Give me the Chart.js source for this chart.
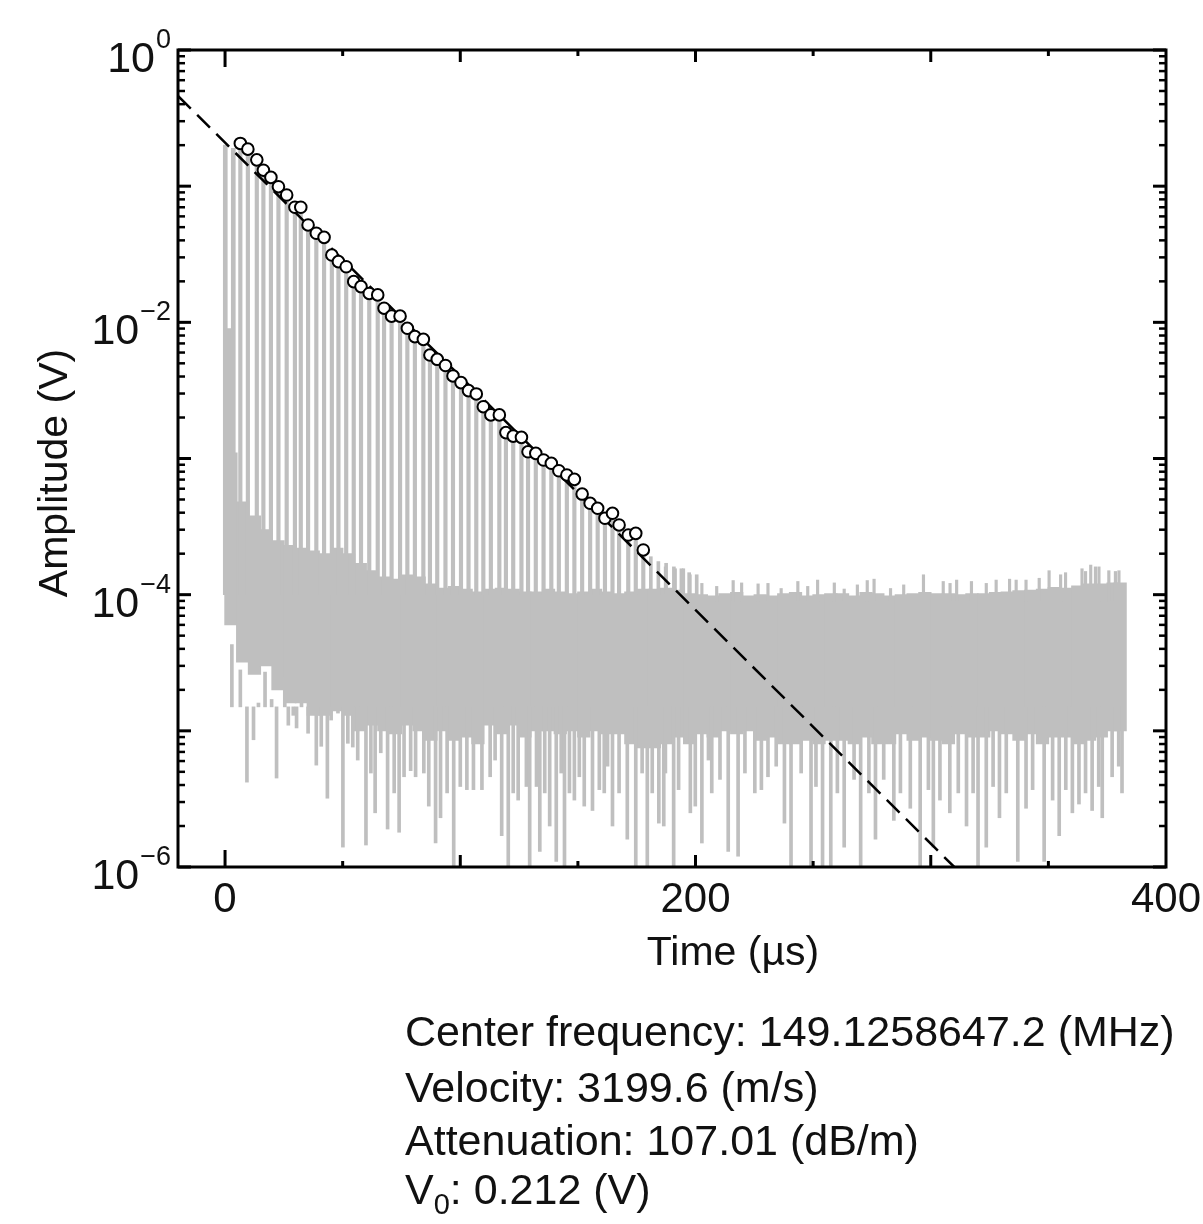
<!DOCTYPE html>
<html>
<head>
<meta charset="utf-8">
<script src="https://cdn.jsdelivr.net/npm/chart.js@4.4.0/dist/chart.umd.min.js"></script>
<style>
html,body{margin:0;padding:0;background:#fff;}
#wrap{position:relative;width:1203px;height:1224px;overflow:hidden;}
#chart{position:absolute;left:0;top:0;}
.info{position:absolute;left:405px;font-family:"Liberation Sans",Arial,sans-serif;font-size:43px;line-height:43px;color:#111;white-space:nowrap;}
.info sub{font-size:29px;line-height:0;vertical-align:-10px;}
</style>
</head>
<body>
<div id="wrap">
<canvas id="chart" width="1203" height="1224"></canvas>
<div class="info" style="top:1010px">Center frequency: 149.1258647.2 (MHz)</div>
<div class="info" style="top:1066px">Velocity: 3199.6 (m/s)</div>
<div class="info" style="top:1119px">Attenuation: 107.01 (dB/m)</div>
<div class="info" style="top:1168px">V<sub>0</sub>: 0.212 (V)</div>
</div>
<script>
// echo peaks picked for the fit (circles), time in us, amplitude in V
const echoTimes = [6.5, 9.7, 13.5, 16.3, 19.5, 22.7, 26.2, 29.7, 32.2, 35.3, 38.8, 42.1, 45.4, 48.2, 51.5, 54.7, 57.8, 61.3, 64.9, 67.6,
  70.8, 74.4, 77.5, 80.7, 84.3, 87.1, 90.2, 93.7, 96.9, 100.3, 103.5, 106.8, 109.8, 113.0, 116.6, 119.4, 122.5, 126.0, 128.8, 132.1,
  135.4, 138.7, 141.9, 145.3, 148.5, 151.8, 155.2, 158.4, 161.5, 164.7, 167.5, 171.4, 174.6, 177.8];
const echoPeaks = [0.206, 0.187, 0.156, 0.131, 0.116, 0.0991, 0.0861, 0.0700, 0.0700, 0.0519, 0.0451, 0.0421, 0.0312, 0.0279, 0.0256, 0.0199, 0.0183, 0.0163, 0.0159, 0.0127,
  0.0111, 0.0111, 0.00904, 0.00785, 0.00750, 0.00575, 0.00535, 0.00482, 0.00404, 0.00361, 0.00315, 0.00298, 0.00240, 0.00209, 0.00209, 0.00155, 0.00146, 0.00143, 0.00112, 0.00109,
  0.000975, 0.000922, 0.000813, 0.000757, 0.000703, 0.000548, 0.000469, 0.000431, 0.000364, 0.000396, 0.000325, 0.000274, 0.000282, 0.000213];

// raw trace: excitation pulses and late echoes without a circle
const pulseTimes = [0.1, 1.8, 3.5];
const pulsePeaks = [0.2, 0.009, 0.19];
const tailTimes = [181.0, 184.2, 187.5, 190.8, 194.0, 197.3, 200.5];
const tailPeaks = [0.00019, 0.000175, 0.00017, 0.00016, 0.000155, 0.000145, 0.00014];

// noise band, 5 us bins: upper and lower edge of the dense grey
const bandTimes = [2.5, 7.5, 12.5, 17.5, 22.5, 27.5, 32.5, 37.5, 42.5, 47.5, 52.5, 57.5, 62.5, 67.5, 72.5, 77.5, 82.5, 87.5, 92.5, 97.5,
  102.5, 107.5, 112.5, 117.5, 122.5, 127.5, 132.5, 137.5, 142.5, 147.5, 152.5, 157.5, 162.5, 167.5, 172.5, 177.5, 182.5, 187.5, 192.5, 197.5,
  202.5, 207.5, 212.5, 217.5, 222.5, 227.5, 232.5, 237.5, 242.5, 247.5, 252.5, 257.5, 262.5, 267.5, 272.5, 277.5, 282.5, 287.5, 292.5, 297.5,
  302.5, 307.5, 312.5, 317.5, 322.5, 327.5, 332.5, 337.5, 342.5, 347.5, 352.5, 357.5, 362.5, 367.5, 372.5, 377.5, 380.5];
const bandHigh = [1.1e-3, 4.8e-4, 3.8e-4, 3.0e-4, 2.5e-4, 2.3e-4, 2.2e-4, 2.1e-4, 2.0e-4, 2.2e-4, 2.0e-4, 1.7e-4, 1.5e-4, 1.35e-4, 1.3e-4, 1.4e-4, 1.35e-4, 1.2e-4, 1.12e-4, 1.15e-4,
  1.1e-4, 1.05e-4, 1.1e-4, 1.12e-4, 1.1e-4, 1.05e-4, 1.05e-4, 1.1e-4, 1.05e-4, 1.02e-4, 1.05e-4, 1.1e-4, 1.05e-4, 1.02e-4, 1.05e-4, 1.1e-4, 1.1e-4, 1.12e-4, 1.08e-4, 1.02e-4,
  1.0e-4, 9.8e-5, 1.02e-4, 1.04e-4, 9.8e-5, 1.0e-4, 9.8e-5, 1.02e-4, 1.04e-4, 9.8e-5, 1.0e-4, 1.02e-4, 1.02e-4, 9.8e-5, 1.04e-4, 1.02e-4, 9.8e-5, 1.0e-4, 1.02e-4, 1.04e-4,
  1.02e-4, 1.02e-4, 1.0e-4, 1.02e-4, 1.02e-4, 1.04e-4, 1.05e-4, 1.07e-4, 1.08e-4, 1.1e-4, 1.13e-4, 1.12e-4, 1.16e-4, 1.2e-4, 1.2e-4, 1.22e-4, 1.22e-4];
const bandLow = [6e-5, 3.2e-5, 2.6e-5, 3e-5, 2e-5, 1.6e-5, 1.6e-5, 1.3e-5, 1.3e-5, 1.4e-5, 1.3e-5, 1e-5, 1.1e-5, 1e-5, 9.5e-6, 1.1e-5, 1e-5, 8.5e-6, 1e-5, 8.5e-6,
  9e-6, 8e-6, 1.1e-5, 9.5e-6, 1.1e-5, 9e-6, 1e-5, 1e-5, 9.5e-6, 1e-5, 9e-6, 1e-5, 9.5e-6, 9.5e-6, 8e-6, 7.5e-6, 7.5e-6, 8e-6, 9e-6, 8e-6,
  9.5e-6, 9e-6, 1e-5, 9.5e-6, 1e-5, 8.5e-6, 9e-6, 8e-6, 8e-6, 8.5e-6, 8e-6, 8.5e-6, 8.5e-6, 8e-6, 9e-6, 8e-6, 8e-6, 9.5e-6, 8.5e-6, 9e-6,
  8.5e-6, 8e-6, 9.5e-6, 9e-6, 9e-6, 1e-5, 9.5e-6, 8.5e-6, 9.5e-6, 8e-6, 9e-6, 9e-6, 8e-6, 8.5e-6, 9e-6, 1e-5, 1e-5];

// downward noise spikes below the band
const dipTimes = [2.9, 6.5, 9.3, 12.1, 14.2, 17.0, 19.8, 21.9, 25.4, 26.9, 29.0, 30.4, 32.5, 35.3, 38.8, 40.9, 43.5, 45.1, 48.0, 50.1,
  52.2, 54.3, 56.4, 59.9, 62.0, 63.8, 66.2, 69.1, 71.9, 74.0, 76.1, 78.9, 81.0, 84.5, 86.6, 89.5, 91.6, 94.4, 97.2, 100.0,
  102.8, 105.6, 109.2, 112.7, 114.8, 117.6, 120.4, 122.5, 124.6, 128.1, 129.5, 132.4, 133.8, 135.9, 138.0, 140.8, 142.9, 144.3, 146.4, 148.5,
  150.6, 152.7, 156.2, 159.1, 161.2, 162.6, 164.7, 167.5, 171.0, 174.6, 177.3, 179.5, 181.6, 184.4, 186.5, 187.2, 190.7, 192.8, 197.8, 199.9,
  202.7, 205.5, 206.9, 210.4, 213.9, 218.1, 221.0, 225.2, 228.0, 230.8, 234.3, 237.8, 240.6, 244.9, 249.1, 251.2, 254.0, 257.5, 260.3, 263.2,
  267.4, 270.2, 273.7, 276.5, 280.0, 284.3, 287.1, 291.3, 295.5, 299.0, 301.1, 303.9, 308.1, 311.7, 315.2, 318.0, 320.1, 323.6, 326.5, 329.2,
  332.1, 337.0, 340.5, 343.3, 348.2, 351.8, 354.6, 357.4, 360.2, 363.0, 365.8, 368.6, 371.4, 372.9, 377.1, 379.9, 381.3];
const dipLows = [4.3e-5, 2.8e-5, 4.2e-6, 8.6e-6, 1.6e-5, 2.7e-5, 1.7e-5, 4.5e-6, 2.5e-5, 1.1e-5, 1.3e-5, 1.05e-5, 1.9e-5, 9.6e-6, 5.6e-6, 7.7e-6, 3.2e-6, 1.2e-5, 1.35e-5, 1.4e-6,
  8.1e-6, 7.6e-6, 6.1e-6, 1.45e-6, 4.9e-6, 2.5e-6, 6.9e-6, 1.9e-6, 3.5e-6, 1.8e-6, 4.6e-6, 5.1e-6, 4.6e-6, 4.9e-6, 2.8e-6, 1.5e-6, 2.3e-6, 3.5e-6, 8e-7, 3.9e-6,
  3.7e-6, 3.7e-6, 3.7e-6, 4.6e-6, 6.1e-6, 1.7e-6, 8e-7, 3.5e-6, 3.1e-6, 3.9e-6, 8e-7, 3.9e-6, 1.3e-6, 3.5e-6, 2e-6, 1.1e-6, 4.9e-6, 8e-7, 3.5e-6, 3.1e-6,
  4.6e-6, 2.8e-6, 2.6e-6, 3.7e-6, 3.5e-6, 5.5e-6, 2e-6, 3.5e-6, 1.6e-6, 8e-7, 4.9e-6, 8e-7, 3.5e-6, 2.1e-6, 2e-6, 4.9e-6, 8e-7, 3.7e-6, 2.5e-6, 2.8e-6,
  1.5e-6, 6.1e-6, 3.5e-6, 4.4e-6, 1.3e-6, 1.2e-6, 4.9e-6, 3.5e-6, 3.7e-6, 4.6e-6, 5.5e-6, 2.1e-6, 8e-7, 4.9e-6, 8e-7, 3.9e-6, 8e-7, 8e-7, 3.5e-6, 1.4e-6,
  4.4e-6, 8e-7, 3.5e-6, 1.6e-6, 4.4e-6, 2.2e-6, 3.5e-6, 2.7e-6, 8e-7, 3.7e-6, 1.4e-6, 3.1e-6, 2.5e-6, 3.5e-6, 2e-6, 3.5e-6, 8e-7, 1.4e-6, 3.9e-6, 2.3e-6,
  3.5e-6, 1.1e-6, 2.7e-6, 3.7e-6, 1.1e-6, 3.1e-6, 1.7e-6, 3.7e-6, 2.5e-6, 2.9e-6, 3.5e-6, 2.6e-6, 3.9e-6, 2.3e-6, 4.6e-6, 5.5e-6, 3.5e-6];

// upward noise spikes above the band
const topTimes = [187.2, 191.4, 194.9, 197.7, 202.7, 209.0, 216.0, 219.6, 226.6, 230.8, 236.4, 243.5, 247.7, 251.9, 259.0, 263.2, 268.8, 273.0, 275.9, 282.9,
  288.5, 296.9, 305.3, 308.2, 311.0, 317.3, 323.6, 327.8, 333.5, 336.3, 340.5, 346.1, 350.3, 355.2, 357.3, 364.3, 365.8, 368.0, 370.0, 371.5,
  375.7, 378.5, 380.0];
const topPeaks = [1.6e-4, 1.55e-4, 1.55e-4, 1.4e-4, 1.21e-4, 1.15e-4, 1.27e-4, 1.22e-4, 1.2e-4, 1.21e-4, 1.11e-4, 1.25e-4, 1.15e-4, 1.28e-4, 1.22e-4, 1.1e-4, 1.18e-4, 1.27e-4, 1.3e-4, 1.11e-4,
  1.18e-4, 1.4e-4, 1.25e-4, 1.21e-4, 1.28e-4, 1.25e-4, 1.21e-4, 1.28e-4, 1.3e-4, 1.28e-4, 1.28e-4, 1.32e-4, 1.5e-4, 1.4e-4, 1.45e-4, 1.55e-4, 1.48e-4, 1.65e-4, 1.6e-4, 1.6e-4,
  1.5e-4, 1.48e-4, 1.5e-4];

// exponential fit, end points of the dashed line
const fitTimes = [-20, 310];
const fitValues = [0.46, 1e-6];

const yLabelExponents = [0, -2, -4, -6];
const xLabelValues = [0, 200, 400];

const grey = '#bfbfbf';
const font = '"Liberation Sans", Arial, sans-serif';

const spans = (ts, lo, hi) => ts.map((t, i) => ({x: t, y: [typeof lo === 'number' ? lo : lo[i], typeof hi === 'number' ? hi : hi[i]]}));

const decor = {
  id: 'decor',
  afterDatasetsDraw(chart) {
    const {ctx, chartArea: a, scales: {x, y}} = chart;
    ctx.save();
    ctx.strokeStyle = '#000';
    ctx.lineWidth = 3;
    const tick = (x1, y1, x2, y2) => { ctx.beginPath(); ctx.moveTo(x1, y1); ctx.lineTo(x2, y2); ctx.stroke(); };
    for (let v = 0; v < 400; v += 50) {
      const px = x.getPixelForValue(v);
      const len = v === 0 ? 17 : v % 100 === 0 ? 12 : 6;
      tick(px, a.bottom, px, a.bottom - len);
      tick(px, a.top, px, a.top + len);
    }
    for (let e = -6; e <= 0; e++) {
      for (let m = 1; m < 10; m++) {
        if (e === 0 && m > 1) break;
        const py = y.getPixelForValue(m * Math.pow(10, e));
        const len = m === 1 ? 13 : 7;
        ctx.lineWidth = m === 1 ? 3 : 2.5;
        tick(a.left, py, a.left + len, py);
        tick(a.right, py, a.right - len, py);
      }
    }
    ctx.lineWidth = 3;
    ctx.strokeRect(a.left, a.top, a.right - a.left, a.bottom - a.top);
    ctx.restore();
  },
  afterDraw(chart) {
    const {ctx, chartArea: a, scales: {x, y}} = chart;
    ctx.save();
    ctx.fillStyle = '#111';
    ctx.textBaseline = 'alphabetic';
    ctx.textAlign = 'right';
    yLabelExponents.forEach(e => {
      const py = y.getPixelForValue(Math.pow(10, e));
      const sup = e === 0 ? '0' : '\u2212' + (-e);
      ctx.font = '27px ' + font;
      ctx.fillText(sup, 171, py - 2);
      const w = ctx.measureText(sup).width;
      ctx.font = '43px ' + font;
      ctx.fillText('10', 170 - w, py + 22);
    });
    ctx.textAlign = 'center';
    ctx.font = '42px ' + font;
    xLabelValues.forEach(v => ctx.fillText(String(v), x.getPixelForValue(v), a.bottom + 45));
    ctx.font = '41px ' + font;
    ctx.fillText('Time (\u00b5s)', 733, 965);
    ctx.translate(67, 473);
    ctx.rotate(-Math.PI / 2);
    ctx.fillText('Amplitude (V)', 0, 0);
    ctx.restore();
  }
};

new Chart(document.getElementById('chart'), {
  type: 'bar',
  data: {
    datasets: [
      {type: 'scatter', data: echoTimes.map((t, i) => ({x: t, y: echoPeaks[i]})), order: 0,
        pointRadius: 5.8, pointBackgroundColor: '#fff', pointBorderColor: '#000', pointBorderWidth: 2, showLine: false},
      {type: 'line', data: fitTimes.map((t, i) => ({x: t, y: fitValues[i]})), order: 1,
        borderColor: '#000', borderWidth: 2.5, borderDash: [18, 9], pointRadius: 0, fill: false},
      {data: spans(echoTimes, 1e-4, echoPeaks), order: 2, backgroundColor: grey, barThickness: 3.5, grouped: false},
      {data: spans(pulseTimes, 1e-4, pulsePeaks), order: 2, backgroundColor: grey, barThickness: 4, grouped: false},
      {data: spans(tailTimes, 1e-4, tailPeaks), order: 2, backgroundColor: grey, barThickness: 3, grouped: false},
      {data: spans(topTimes, 9e-5, topPeaks), order: 3, backgroundColor: grey, barThickness: 2.5, grouped: false},
      {data: spans(dipTimes, dipLows, 1.5e-5), order: 3, backgroundColor: grey, barThickness: 3, grouped: false},
      {data: spans(bandTimes, bandLow, bandHigh), order: 4, backgroundColor: grey, barThickness: 12.6, grouped: false}
    ]
  },
  options: {
    responsive: false,
    animation: false,
    events: [],
    layout: {padding: {left: 0, top: 50, right: 37, bottom: 297}},
    plugins: {legend: {display: false}, tooltip: {enabled: false}},
    scales: {
      x: {
        type: 'linear', min: -20, max: 400, offset: false,
        grid: {display: false, drawTicks: false}, border: {display: false},
        ticks: {display: false},
        afterFit: s => { s.height = 60; }
      },
      y: {
        type: 'logarithmic', min: 1e-6, max: 1,
        grid: {display: false, drawTicks: false}, border: {display: false},
        ticks: {display: false},
        afterFit: s => { s.width = 178; }
      }
    }
  },
  plugins: [decor]
});
</script>
</body>
</html>
